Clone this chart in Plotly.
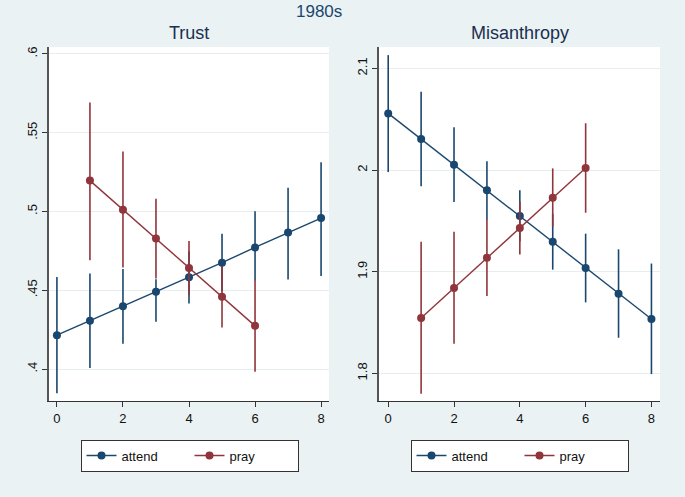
import plotly.graph_objects as go

# ---- data ----
attend_x = [0, 1, 2, 3, 4, 5, 6, 7, 8]
pray_x = [1, 2, 3, 4, 5, 6]

trust_attend = [0.4215, 0.4306, 0.4399, 0.4490, 0.4582, 0.4675, 0.4772, 0.4867, 0.4958]
trust_attend_hi = [0.4584, 0.4606, 0.4635, 0.4570, 0.4748, 0.4858, 0.5002, 0.5150, 0.5312]
trust_attend_lo = [0.3846, 0.4006, 0.4160, 0.4300, 0.4416, 0.4492, 0.4563, 0.4568, 0.4590]

trust_pray = [0.5196, 0.5011, 0.4829, 0.4641, 0.4458, 0.4274]
trust_pray_hi = [0.5692, 0.5380, 0.5080, 0.4812, 0.4652, 0.4567]
trust_pray_lo = [0.4690, 0.4644, 0.4574, 0.4468, 0.4264, 0.3983]

mis_attend = [2.0557, 2.0305, 2.0052, 1.9800, 1.9548, 1.9295, 1.9036, 1.8784, 1.8534]
mis_attend_hi = [2.1130, 2.0770, 2.0420, 2.0085, 1.9800, 1.9570, 1.9374, 1.9220, 1.9080]
mis_attend_lo = [1.9980, 1.9840, 1.9685, 1.9510, 1.9296, 1.9020, 1.8698, 1.8350, 1.7993]

mis_pray = [1.8544, 1.8839, 1.9138, 1.9430, 1.9728, 2.0020]
mis_pray_hi = [1.9295, 1.9393, 1.9515, 1.9690, 2.0016, 2.0460]
mis_pray_lo = [1.7800, 1.8292, 1.8760, 1.9170, 1.9440, 1.9580]

trust_ticks = [0.4, 0.45, 0.5, 0.55, 0.6]
trust_ticktext = [".4", ".45", ".5", ".55", ".6"]
mis_ticks = [1.8, 1.9, 2.0, 2.1]
mis_ticktext = ["1.8", "1.9", "2", "2.1"]
x_ticks = [0, 2, 4, 6, 8]

NAVY = "#1a476f"
MAROON = "#90353b"
BG = "#eaf2f3"
FONT = "Liberation Sans, Arial, sans-serif"


def err(vals, hi, lo):
    return dict(type="data", symmetric=False,
                array=[h - v for h, v in zip(hi, vals)],
                arrayminus=[v - l for v, l in zip(vals, lo)],
                width=0, thickness=1.6)


fig = go.Figure()


def add(x, y, hi, lo, name, color, xa, ya, leg):
    fig.add_trace(go.Scatter(
        x=x, y=y, name=name, mode="lines+markers",
        line=dict(color=color, width=1.4),
        marker=dict(color=color, size=8),
        error_y=dict(color=color, **err(y, hi, lo)),
        xaxis=xa, yaxis=ya, legend=leg, showlegend=True))


add(attend_x, trust_attend, trust_attend_hi, trust_attend_lo, "attend", NAVY, "x", "y", "legend")
add(pray_x, trust_pray, trust_pray_hi, trust_pray_lo, "pray", MAROON, "x", "y", "legend")
add(attend_x, mis_attend, mis_attend_hi, mis_attend_lo, "attend", NAVY, "x2", "y2", "legend2")
add(pray_x, mis_pray, mis_pray_hi, mis_pray_lo, "pray", MAROON, "x2", "y2", "legend2")

W, H = 685, 497
ydom = [1 - 401 / H, 1 - 47 / H]

xcommon = dict(tickvals=x_ticks, showgrid=False, zeroline=False, showline=True,
               linecolor="#333333", linewidth=1.3, ticks="outside", ticklen=5,
               tickcolor="#333333", tickfont=dict(family=FONT, size=13, color="#111111"))
ycommon = dict(showgrid=True, gridcolor="#e6eef0", gridwidth=1, zeroline=False,
               showline=True, linecolor="#555555", linewidth=1.6, ticks="outside",
               ticklen=5, tickcolor="#333333", tickangle=-90,
               tickfont=dict(family=FONT, size=13, color="#111111"))

legend_common = dict(orientation="h", bgcolor="white", bordercolor="#333333",
                     borderwidth=1, font=dict(family=FONT, size=13, color="#111111"),
                     xanchor="center", yanchor="middle", entrywidth=63,
                     itemwidth=30, itemclick=False, itemdoubleclick=False)

fig.update_layout(
    width=W, height=H,
    margin=dict(l=0, r=0, t=0, b=0),
    paper_bgcolor=BG, plot_bgcolor="white",
    font=dict(family=FONT),
    xaxis=dict(domain=[49 / W, 329 / W], range=[-0.24, 8.24], anchor="y", **xcommon),
    yaxis=dict(domain=ydom, range=[0.3797, 0.6044], anchor="x",
               tickvals=trust_ticks, ticktext=trust_ticktext, **ycommon),
    xaxis2=dict(domain=[379 / W, 660 / W], range=[-0.28, 8.26], anchor="y2", **xcommon),
    yaxis2=dict(domain=ydom, range=[1.7728, 2.121], anchor="x2",
                tickvals=mis_ticks, ticktext=mis_ticktext, **ycommon),
    legend=dict(x=189.5 / W, y=1 - 455.5 / H, **legend_common),
    legend2=dict(x=519.5 / W, y=1 - 455.5 / H, **legend_common),
    annotations=[
        dict(text="1980s", x=318.5 / W, y=1 - 11 / H, xref="paper", yref="paper",
             xanchor="center", yanchor="middle",
             showarrow=False, font=dict(family=FONT, size=17, color=NAVY)),
        dict(text="Trust", x=189.5 / W, y=1 - 33 / H, xref="paper", yref="paper",
             xanchor="center", yanchor="middle",
             showarrow=False, font=dict(family=FONT, size=18, color="#1a2f4f")),
        dict(text="Misanthropy", x=520 / W, y=1 - 33 / H, xref="paper", yref="paper",
             xanchor="center", yanchor="middle",
             showarrow=False, font=dict(family=FONT, size=18, color="#1a2f4f")),
    ],
)

fig.write_html("out.html", config={"displayModeBar": False},
               post_script="document.body.style.margin='0';document.body.style.padding='0';")
